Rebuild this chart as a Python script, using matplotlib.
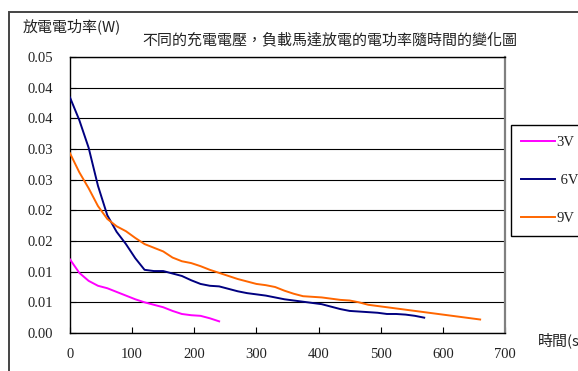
import matplotlib
matplotlib.use("Agg")
import matplotlib.pyplot as plt
from matplotlib.patches import Rectangle
from matplotlib.ticker import FixedLocator, FixedFormatter

# Discharge power (W) of the motor over time (s) for three charging voltages
t_3v = [0, 15, 30, 45, 60, 75, 90, 105, 120, 135, 150, 165, 180, 195, 210, 225, 240]
p_3v = [0.0120, 0.0098, 0.0085, 0.0077, 0.0073, 0.0067, 0.0061, 0.0055, 0.0050,
        0.0046, 0.0042, 0.0036, 0.0031, 0.0029, 0.0028, 0.0024, 0.0019]

t_6v = [0, 15, 30, 45, 60, 75, 90, 105, 120, 135, 150, 165, 180, 195, 210, 225,
        240, 255, 270, 285, 300, 315, 330, 345, 360, 375, 390, 405, 420, 435,
        450, 465, 480, 495, 510, 525, 540, 555, 570]
p_6v = [0.0384, 0.0347, 0.0302, 0.0240, 0.0192, 0.0165, 0.0145, 0.0122, 0.0103,
        0.0101, 0.0101, 0.0097, 0.0093, 0.0086, 0.0080, 0.0077, 0.0076, 0.0072,
        0.0068, 0.0065, 0.0063, 0.0061, 0.0058, 0.0055, 0.0053, 0.0051, 0.0049,
        0.0047, 0.0043, 0.0039, 0.0036, 0.0035, 0.0034, 0.0033, 0.0031, 0.0031,
        0.0030, 0.0028, 0.0025]

t_9v = [0, 15, 30, 45, 60, 75, 90, 105, 120, 135, 150, 165, 180, 195, 210, 225,
        240, 255, 270, 285, 300, 315, 330, 345, 360, 375, 390, 405, 420, 435,
        450, 465, 480, 495, 510, 525, 540, 555, 570, 585, 600, 615, 630, 645, 660]
p_9v = [0.0293, 0.0262, 0.0236, 0.0207, 0.0186, 0.0174, 0.0166, 0.0155, 0.0145,
        0.0139, 0.0133, 0.0123, 0.0117, 0.0114, 0.0109, 0.0103, 0.0098, 0.0093,
        0.0088, 0.0084, 0.0080, 0.0078, 0.0075, 0.0069, 0.0064, 0.0060, 0.0059,
        0.0058, 0.0056, 0.0054, 0.0053, 0.0050, 0.0046, 0.0044, 0.0042, 0.0040,
        0.0038, 0.0036, 0.0034, 0.0032, 0.0030, 0.0028, 0.0026, 0.0024, 0.0022]

series_labels = ["3V", " 6V", "9V"]
series_colors = ["#ff00ff", "#000080", "#ff6600"]

x_ticks = [0, 100, 200, 300, 400, 500, 600, 700]
y_ticks = [0.0, 0.005, 0.010, 0.015, 0.020, 0.025, 0.030, 0.035, 0.040, 0.045]
y_tick_labels = ["0.00", "0.01", "0.01", "0.02", "0.02",
                 "0.03", "0.03", "0.04", "0.04", "0.05"]

title_text = "不同的充電電壓，負載馬達放電的電功率隨時間的變化圖"
y_label_text = "放電電功率(W)"
x_label_text = "時間(s)"

SERIF = ["Liberation Serif", "DejaVu Serif"]
CJK = ["Noto Sans CJK TC", "Liberation Serif", "DejaVu Sans"]
TXT = "#222222"

W, H = 578, 371
fig = plt.figure(figsize=(W / 100, H / 100), dpi=100)
fig.patch.set_facecolor("white")

# outer chart frame (runs off the right and bottom edges)
fig.patches.append(Rectangle((9 / W, -0.2), 1.5, 0.2 + 1 - 12 / H,
                             transform=fig.transFigure, fill=False,
                             edgecolor="#444444", linewidth=1.4, zorder=0))

ax = fig.add_axes([70 / W, 1 - 333 / H, (505 - 70) / W, (333 - 57) / H])

for t, p, lab, col in zip([t_3v, t_6v, t_9v], [p_3v, p_6v, p_9v],
                          series_labels, series_colors):
    ax.plot(t, p, color=col, linewidth=1.4, label=lab, zorder=3)

ax.set_xlim(0, 700)
ax.set_ylim(0, 0.045)
ax.xaxis.set_major_locator(FixedLocator(x_ticks))
ax.yaxis.set_major_locator(FixedLocator(y_ticks))
ax.yaxis.set_major_formatter(FixedFormatter(y_tick_labels))
ax.grid(axis="y", color="#000000", linewidth=0.8, zorder=1)
ax.tick_params(direction="in", length=4, width=0.8, colors="#000000",
               labelcolor=TXT, labelsize=10.5)
ax.tick_params(axis="y", pad=12)
ax.tick_params(axis="x", pad=11)
for lbl in ax.get_xticklabels() + ax.get_yticklabels():
    lbl.set_family(SERIF)

for side in ["left", "top", "bottom"]:
    ax.spines[side].set_color("#000000")
    ax.spines[side].set_linewidth(1.0)
ax.spines["right"].set_color("#808080")
ax.spines["right"].set_linewidth(1.6)

fig.text(329.5 / W, 1 - 40 / H, title_text, ha="center", va="center",
         fontsize=10.8, family=CJK, color=TXT)
fig.text(23 / W, 1 - 26 / H, y_label_text, ha="left", va="center",
         fontsize=10.8, family=CJK, color=TXT)
fig.text(538 / W, 1 - 340 / H, x_label_text, ha="left", va="center",
         fontsize=10.8, family=CJK, color=TXT)

# legend box (runs off the right edge)
fig.patches.append(Rectangle((511 / W, 1 - 236 / H), 0.5, (236 - 125) / H,
                             transform=fig.transFigure, facecolor="white",
                             edgecolor="#000000", linewidth=1.0, zorder=1))
handles, labels = ax.get_legend_handles_labels()
leg = fig.legend(handles, labels, loc="center left",
                 bbox_to_anchor=(521 / W, 1 - 180 / H), frameon=False,
                 borderpad=0, borderaxespad=0, handlelength=2.3,
                 handletextpad=0.15, labelspacing=1.7,
                 prop={"family": SERIF, "size": 10.5})
for txt in leg.get_texts():
    txt.set_color(TXT)

fig.savefig("out.png", dpi=100, facecolor="white")
